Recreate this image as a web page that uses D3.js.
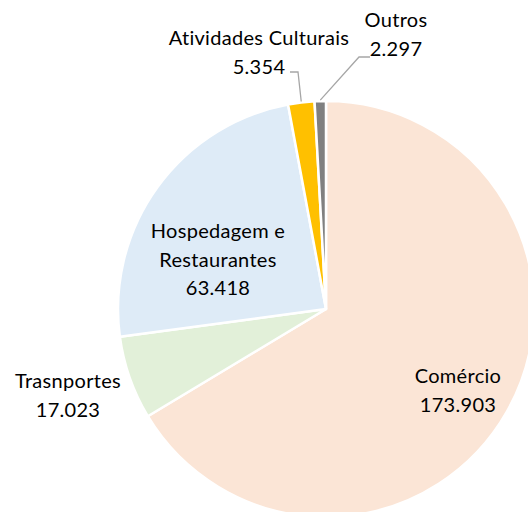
<!DOCTYPE html>
<html><head><meta charset="utf-8">
<script src="https://cdn.jsdelivr.net/npm/d3@7"></script>
<style>body{margin:0;background:#fff;overflow:hidden}</style>
</head><body>
<svg id="c" width="528" height="512"></svg>
<script>
const categories = ["Comércio","Trasnportes","Hospedagem e Restaurantes","Atividades Culturais","Outros"];
const values = [173.903, 17.023, 63.418, 5.354, 2.297];
const valueLabels = ["173.903","17.023","63.418","5.354","2.297"];
const colors = ["#FBE5D6","#E2F0D9","#DEEBF7","#FFC000","#808080"];

const svg = d3.select("#c");
const cx = 326, cy = 309, r = 208;
const g = svg.append("g").attr("transform",`translate(${cx},${cy})`);
const pie = d3.pie().sort(null).value(d=>d)(values);
const arc = d3.arc().innerRadius(0).outerRadius(r);
g.selectAll("path").data(pie).join("path")
  .attr("d",arc).attr("fill",(d,i)=>colors[i])
  .attr("stroke","#fff").attr("stroke-width",2.5).attr("stroke-linejoin","round");

const font = "Lato, 'Open Sans', sans-serif";
const labelPos = [
  {x:458, y:383, lines:["Comércio", valueLabels[0]]},
  {x:68, y:388, lines:["Trasnportes", valueLabels[1]]},
  {x:218, y:238, lines:["Hospedagem e","Restaurantes", valueLabels[2]]},
  {x:259, y:45, lines:["Atividades Culturais", valueLabels[3]]},
  {x:396, y:27, lines:["Outros", valueLabels[4]]}
];
labelPos.forEach(p=>{
  const t = svg.append("text").attr("text-anchor","middle")
    .attr("font-family",font).attr("font-size",20).attr("letter-spacing",0.3).attr("fill","#000");
  p.lines.forEach((l,j)=>{
    t.append("tspan").attr("x",p.x).attr("y",p.y + j*28.5).text(l);
  });
});

function edgePoint(d){
  const a = (d.startAngle+d.endAngle)/2;
  return [cx + Math.sin(a)*r, cy - Math.cos(a)*r];
}
const pA = edgePoint(pie[3]);
const pO = edgePoint(pie[4]);
svg.append("polyline").attr("points",`290,72 298,72 ${pA[0]},${pA[1]-1}`)
  .attr("fill","none").attr("stroke","#A6A6A6").attr("stroke-width",1.3);
svg.append("polyline").attr("points",`370,57 359,57 ${pO[0]},${pO[1]-1}`)
  .attr("fill","none").attr("stroke","#A6A6A6").attr("stroke-width",1.3);
</script>
</body></html>
